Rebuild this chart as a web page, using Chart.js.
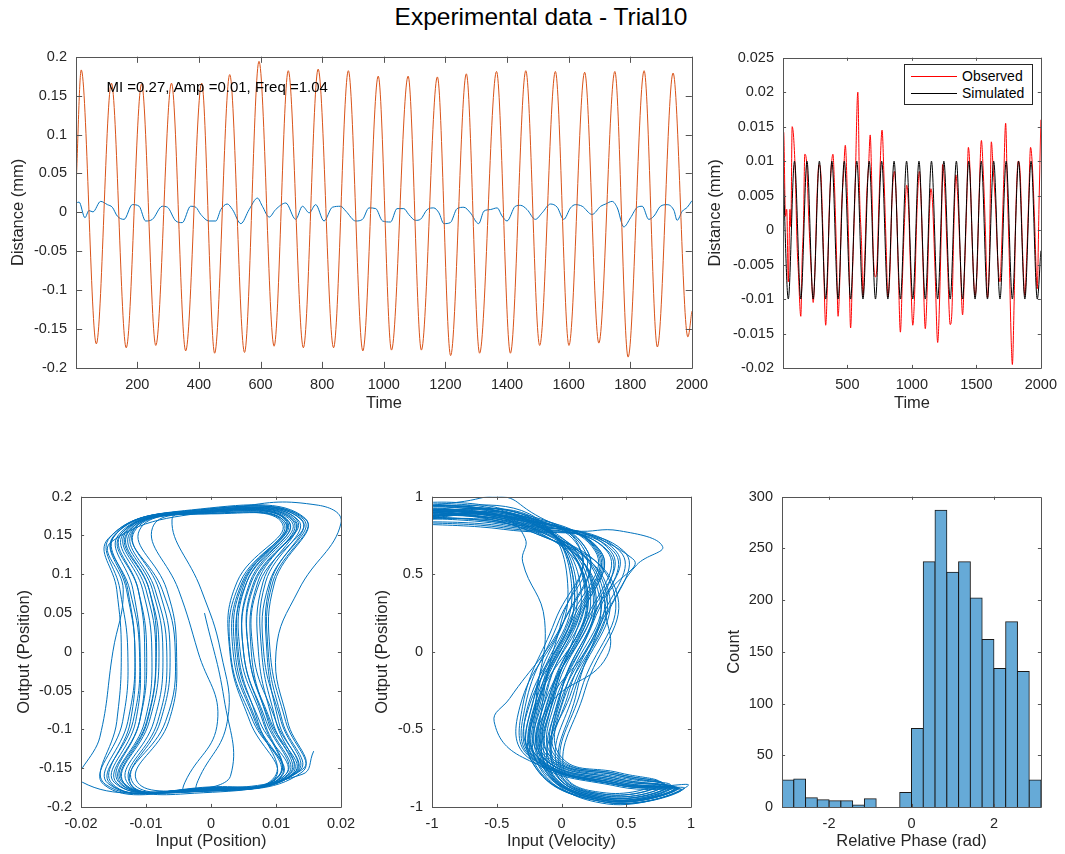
<!DOCTYPE html>
<html>
<head>
<meta charset="utf-8">
<script src="https://cdn.jsdelivr.net/npm/chart.js@4.4.1/dist/chart.umd.min.js"></script>
<style>
  body { margin: 0; background: #fff; }
  #fig { position: relative; width: 1065px; height: 854px; overflow: hidden;
         font-family: "Liberation Sans", Arial, Helvetica, sans-serif; color: #262626; }
  #fig canvas { position: absolute; }
  #title { position: absolute; left: 0; top: 2px; width: 1082px; text-align: center;
           font-size: 24.5px; line-height: 30px; color: #000; }
  #legend { position: absolute; left: 904px; top: 64px; width: 127px; height: 39px;
            border: 1px solid #262626; background: #fff; font-size: 14px; z-index: 5; }
  #legend .item { position: absolute; left: 0; width: 100%; height: 16px; }
  #legend .swatch { position: absolute; left: 6px; top: 8px; width: 46px; border-top: 1px solid; }
  #legend .lbl { position: absolute; left: 57px; top: 0; line-height: 16px; color: #000; }
</style>
</head>
<body>
<div id="fig">
  <div id="title">Experimental data - Trial10</div>
  <canvas id="cTime" width="707" height="381" style="left:9px;top:39px"></canvas>
  <canvas id="cFit" width="359" height="380" style="left:706px;top:40px"></canvas>
  <canvas id="cPos" width="350" height="380" style="left:15px;top:479px"></canvas>
  <canvas id="cVel" width="342" height="380" style="left:373px;top:479px"></canvas>
  <canvas id="cHist" width="340" height="380" style="left:725px;top:479px"></canvas>
  <div id="legend">
    <div class="item" style="top:3px"><span class="swatch" style="border-color:#ff0000"></span><span class="lbl">Observed</span></div>
    <div class="item" style="top:20px"><span class="swatch" style="border-color:#000"></span><span class="lbl">Simulated</span></div>
  </div>
</div>
<script>
// ---------------- data ----------------

// top left: output position (orange), extrema of each half cycle
const outTimes = [1, 18, 67, 116, 164, 214, 260, 311, 357, 409, 451, 500, 548, 595, 644, 690, 739, 787, 837, 885,
  932, 982, 1025, 1079, 1122, 1174, 1217, 1268, 1311, 1366, 1411, 1461, 1506, 1557, 1601, 1652, 1698, 1750, 1793, 1845,
  1888, 1939, 1987, 2000];
const outValues = [0.03, 0.183, -0.169, 0.166, -0.174, 0.165, -0.171, 0.166, -0.178, 0.166, -0.181, 0.177, -0.180, 0.194,
  -0.172, 0.182, -0.174, 0.184, -0.174, 0.182, -0.178, 0.175, -0.177, 0.175, -0.177, 0.174, -0.184, 0.178, -0.181, 0.181,
  -0.181, 0.182, -0.171, 0.181, -0.171, 0.180, -0.168, 0.181, -0.186, 0.182, -0.173, 0.179, -0.160, -0.127];

// top left: input position (blue), [time, value]
const inputPos = [
  [1, 0.0120], [11, 0.0132], [30, -0.0069], [43, 0.0023], [56, 0.0006], [81, 0.0141], [103, 0.0099], [119, 0.0065],
  [135, -0.0048], [157, -0.0090], [184, 0.0099], [206, 0.0078], [227, -0.0111], [249, -0.0090], [281, 0.0078],
  [298, 0.0065], [325, -0.0111], [346, -0.0132], [373, 0.0078], [390, 0.0065], [406, -0.0027], [433, -0.0111],
  [455, -0.0111], [471, 0.0036], [492, 0.0107], [509, 0.0036], [536, -0.0145], [563, 0.0036], [590, 0.0183],
  [606, 0.0078], [628, -0.0061], [649, 0.0036], [682, 0.0120], [714, -0.0090], [736, 0.0078], [758, -0.0006],
  [779, 0.0099], [806, -0.0111], [833, 0.0065], [860, 0.0078], [877, 0.0015], [909, -0.0111], [931, -0.0090],
  [952, 0.0057], [974, 0.0048], [996, -0.0111], [1022, -0.0124], [1043, 0.0048], [1065, 0.0048], [1081, -0.0027],
  [1103, -0.0103], [1119, -0.0090], [1141, 0.0036], [1162, 0.0057], [1179, -0.0006], [1195, -0.0145], [1216, -0.0132],
  [1238, 0.0048], [1260, 0.0065], [1281, -0.0006], [1308, -0.0145], [1325, 0.0015], [1346, 0.0036], [1368, 0.0057],
  [1384, -0.0048], [1400, -0.0111], [1427, 0.0078], [1444, 0.0090], [1465, 0.0036], [1492, -0.0090], [1514, -0.0006],
  [1541, 0.0107], [1563, 0.0065], [1584, -0.0090], [1606, 0.0057], [1622, 0.0099], [1644, 0.0078], [1676, -0.0027],
  [1704, 0.0078], [1720, 0.0107], [1741, 0.0141], [1758, 0.0057], [1779, -0.0187], [1801, -0.0069], [1823, 0.0065],
  [1839, 0.0078], [1860, -0.0090], [1877, -0.0048], [1898, 0.0078], [1920, 0.0099], [1942, 0.0023], [1952, -0.0103],
  [1969, 0.0015], [1985, 0.0065], [2000, 0.0149]
];

// top right: simulated (black) extrema
const simTimes = [1, 42, 90, 139, 187, 235, 283, 332, 380, 428, 476, 525, 573, 621, 669, 718, 766, 814, 862, 911, 959,
  1007, 1055, 1104, 1152, 1200, 1248, 1297, 1345, 1393, 1441, 1490, 1538, 1586, 1634, 1683, 1731, 1779, 1827, 1876,
  1924, 1972, 2000];
const simValues = [0.0095, -0.01, 0.01, -0.01, 0.01, -0.01, 0.01, -0.01, 0.01, -0.01, 0.01, -0.01, 0.01, -0.01, 0.01,
  -0.01, 0.01, -0.01, 0.01, -0.01, 0.01, -0.01, 0.01, -0.01, 0.01, -0.01, 0.01, -0.01, 0.01, -0.01, 0.01, -0.01, 0.01,
  -0.01, 0.01, -0.01, 0.01, -0.01, 0.01, -0.01, 0.01, -0.01, -0.003];

// top right: observed (red), [time, value]
const observed = [
  [1, 0.010], [6, 0.0142], [20, 0.002], [30, 0.003], [42, -0.0075], [55, 0.003], [62, 0.0005], [72, 0.015], [95, 0.009],
  [110, -0.002], [120, -0.006], [139, -0.0125], [150, -0.004], [160, 0.001], [170, 0.011], [185, 0.0095], [200, 0.002],
  [220, -0.006], [235, -0.0105], [250, -0.005], [265, 0.005], [280, 0.0095], [295, 0.008], [310, 0.0], [332, -0.0138],
  [345, -0.008], [360, 0.003], [388, 0.011], [400, 0.0065], [415, -0.003], [428, -0.0125], [440, -0.008], [455, 0.003],
  [470, 0.008], [484, 0.0123], [500, 0.005], [510, -0.002], [525, -0.0142], [540, -0.006], [560, 0.006], [581, 0.020],
  [595, 0.005], [610, -0.002], [621, -0.0095], [635, -0.004], [650, 0.005], [665, 0.0095], [677, 0.0138], [690, 0.006],
  [700, -0.003], [718, -0.0068], [730, -0.005], [745, 0.004], [769, 0.0145], [785, 0.007], [800, -0.002], [814, -0.0097],
  [830, -0.006], [845, 0.004], [865, 0.0085], [880, 0.004], [895, -0.006], [911, -0.0148], [925, -0.008], [940, 0.0],
  [960, 0.0065], [975, 0.003], [990, -0.006], [1007, -0.0138], [1020, -0.010], [1040, 0.003], [1058, 0.0085],
  [1070, 0.005], [1085, -0.004], [1104, -0.0143], [1118, -0.009], [1135, 0.002], [1148, 0.006], [1160, 0.004],
  [1180, -0.006], [1200, -0.0163], [1215, -0.010], [1230, 0.002], [1238, 0.0095], [1255, 0.006], [1275, -0.004],
  [1297, -0.0137], [1310, -0.012], [1325, 0.0], [1341, 0.008], [1355, 0.005], [1375, -0.004], [1393, -0.0123],
  [1408, -0.006], [1425, 0.004], [1438, 0.012], [1450, 0.009], [1470, -0.003], [1490, -0.0095], [1505, -0.006],
  [1520, 0.004], [1539, 0.013], [1552, 0.009], [1570, 0.0], [1586, -0.0098], [1600, -0.005], [1616, 0.0128],
  [1630, 0.009], [1650, 0.003], [1665, -0.004], [1683, -0.0075], [1695, -0.003], [1710, 0.006], [1727, 0.0155],
  [1740, 0.006], [1755, -0.004], [1770, -0.016], [1779, -0.0195], [1792, -0.011], [1805, 0.002], [1825, 0.010],
  [1840, 0.008], [1858, -0.003], [1876, -0.0095], [1890, -0.004], [1905, 0.004], [1920, 0.012], [1935, 0.009],
  [1950, 0.002], [1972, -0.0085], [1985, 0.003], [2000, 0.016]
];

// bottom left: input position vs output position, one row per cycle
const posLoops = [
  [[-0.001, 0.05], [0.002, -0.06], [0.003, -0.16]],
  [[-0.002,-0.177],[0.0115,-0.158],[0.0075,-0.09],[0.0040,0],[0.0055,0.09],[0.0120,0.167],[-0.002,0.180],[-0.0130,0.152],[-0.0095,0.08],[-0.0080,0],[-0.0095,-0.09],[-0.0135,-0.168]],
  [[-0.003,-0.179],[0.0130,-0.156],[0.0100,-0.09],[0.0065,0],[0.0075,0.09],[0.0140,0.170],[-0.003,0.181],[-0.0150,0.148],[-0.0125,0.08],[-0.0110,0],[-0.0120,-0.09],[-0.0155,-0.170]],
  [[-0.001,-0.176],[0.0110,-0.159],[0.0065,-0.09],[0.0030,0],[0.0045,0.09],[0.0115,0.166],[-0.002,0.179],[-0.0120,0.155],[-0.0075,0.08],[-0.0055,0],[-0.0070,-0.09],[-0.0125,-0.167]],
  [[-0.004,-0.181],[0.0135,-0.154],[0.0110,-0.09],[0.0088,0],[0.0095,0.09],[0.0145,0.172],[-0.003,0.183],[-0.0158,0.146],[-0.0145,0.08],[-0.0138,0],[-0.0145,-0.09],[-0.0162,-0.171]],
  [[0.000,-0.174],[0.0105,-0.160],[0.0080,-0.09],[0.0045,0],[0.0055,0.09],[0.0115,0.166],[-0.001,0.178],[-0.0060,0.170],[-0.0015,0.08],[0.0015,0],[0.0025,-0.09],[-0.0020,-0.166]],
  [[-0.002,-0.178],[0.0125,-0.157],[0.0090,-0.09],[0.0058,0],[0.0066,0.09],[0.0130,0.169],[-0.002,0.181],[-0.0140,0.150],[-0.0112,0.08],[-0.0099,0],[-0.0110,-0.09],[-0.0145,-0.169]],
  [[-0.001,-0.177],[0.0105,-0.159],[0.0082,-0.09],[0.0050,0],[0.0060,0.09],[0.0120,0.168],[-0.002,0.180],[-0.0125,0.153],[-0.0090,0.08],[-0.0074,0],[-0.0088,-0.09],[-0.0130,-0.167]],
  [[-0.003,-0.180],[0.0140,-0.155],[0.0115,-0.09],[0.0091,0],[0.0098,0.09],[0.0145,0.171],[-0.003,0.182],[-0.0150,0.149],[-0.0130,0.08],[-0.0117,0],[-0.0128,-0.09],[-0.0158,-0.170]],
  [[0.000,-0.175],[0.0100,-0.161],[0.0060,-0.09],[0.0029,0],[0.0040,0.09],[0.0110,0.165],[-0.001,0.178],[-0.0110,0.157],[-0.0068,0.08],[-0.0053,0],[-0.0065,-0.09],[-0.0115,-0.165]],
  [[-0.002,-0.178],[0.0120,-0.158],[0.0095,-0.09],[0.0073,0],[0.0080,0.09],[0.0128,0.169],[-0.002,0.180],[-0.0135,0.152],[-0.0105,0.08],[-0.0091,0],[-0.0102,-0.09],[-0.0140,-0.168]],
  [[-0.002,-0.177],[0.0128,-0.156],[0.0092,-0.09],[0.0058,0],[0.0068,0.09],[0.0132,0.170],[-0.002,0.181],[-0.0128,0.153],[-0.0095,0.08],[-0.0084,0],[-0.0098,-0.09],[-0.0135,-0.168]],
  [[-0.001,-0.176],[0.0108,-0.160],[0.0070,-0.09],[0.0037,0],[0.0050,0.09],[0.0118,0.167],[-0.001,0.179],[-0.0118,0.155],[-0.0080,0.08],[-0.0063,0],[-0.0078,-0.09],[-0.0122,-0.166]],
  [[-0.003,-0.180],[0.0132,-0.155],[0.0108,-0.09],[0.0081,0],[0.0090,0.09],[0.0142,0.171],[-0.003,0.182],[-0.0148,0.150],[-0.0128,0.08],[-0.0117,0],[-0.0124,-0.09],[-0.0152,-0.170]],
  [[-0.002,-0.177],[0.0115,-0.158],[0.0085,-0.09],[0.0050,0],[0.0062,0.09],[0.0124,0.168],[-0.002,0.180],[-0.0132,0.153],[-0.0100,0.08],[-0.0085,0],[-0.0099,-0.09],[-0.0138,-0.167]],
  [[-0.002,-0.178],[0.0122,-0.157],[0.0100,-0.09],[0.0078,0],[0.0084,0.09],[0.0134,0.170],[-0.002,0.181],[-0.0142,0.151],[-0.0120,0.08],[-0.0109,0],[-0.0116,-0.09],[-0.0148,-0.169]],
  [[0.000,-0.175],[0.0098,-0.161],[0.0072,-0.09],[0.0042,0],[0.0052,0.09],[0.0112,0.166],[-0.001,0.178],[-0.0090,0.160],[-0.0050,0.08],[-0.0020,0],[0.0010,-0.09],[-0.0040,-0.168]],
  [[-0.004,-0.181],[0.0128,-0.156],[0.0104,-0.09],[0.0086,0],[0.0092,0.09],[0.0138,0.171],[-0.003,0.182],[-0.0155,0.148],[-0.0140,0.08],[-0.0128,0],[-0.0136,-0.09],[-0.0165,-0.171]],
  [[-0.001,-0.177],[0.0105,-0.159],[0.0068,-0.09],[0.0034,0],[0.0048,0.09],[0.0116,0.168],[-0.002,0.179],[-0.0122,0.154],[-0.0086,0.08],[-0.0068,0],[-0.0082,-0.09],[-0.0126,-0.167]],
  [[-0.004,-0.183],[0.0140,-0.152],[0.0118,-0.09],[0.0100,0.0],[0.0135,0.08],[0.0200,0.166],[0.0165,0.189],[0.004,0.186],[-0.0153,0.142],[-0.0135,0.08],[-0.0151,0.0],[-0.0171,-0.11],[-0.0198,-0.168]],
  [[-0.002,-0.178],[0.0118,-0.158],[0.0088,-0.09],[0.0062,0],[0.0072,0.09],[0.0126,0.169],[-0.002,0.180],[-0.0138,0.152],[-0.0112,0.08],[-0.0102,0],[-0.0110,-0.09],[-0.0142,-0.168]],
  [[-0.002,-0.177],[0.0140,-0.158],[0.0158,-0.128]]
];

// bottom middle: input velocity vs output position (normalised), one row per cycle
const velLoops = [
  [[-1.1,0.90],[-0.45,0.88],[0.28,0.65],[0.10,0.20],[-0.18,-0.35],[-0.15,-0.68],[0.45,-0.83],[0.85,-0.87],[0.35,-0.95],[-0.10,-0.74],[-0.05,-0.25],[0.20,0.40],[-0.25,0.84]],
  [[-1.1,0.94],[-0.45,0.91],[0.15,0.65],[-0.05,0.20],[-0.30,-0.35],[-0.24,-0.68],[0.45,-0.85],[0.90,-0.88],[0.35,-0.96],[-0.18,-0.72],[-0.18,-0.25],[0.08,0.40],[-0.25,0.88]],
  [[-1.1,0.84],[-0.45,0.80],[0.40,0.65],[0.25,0.20],[-0.06,-0.35],[-0.06,-0.68],[0.45,-0.80],[0.80,-0.86],[0.35,-0.93],[-0.03,-0.75],[0.10,-0.25],[0.36,0.40],[-0.25,0.78]],
  [[-1.1,0.91],[-0.45,0.87],[0.30,0.65],[0.12,0.20],[-0.25,-0.35],[-0.22,-0.68],[0.45,-0.86],[0.95,-0.88],[0.35,-0.97],[-0.18,-0.73],[-0.12,-0.25],[0.18,0.40],[-0.25,0.85]],
  [[-1.1,0.92],[-0.75,0.97],[-0.45,1.0],[-0.27,0.92],[0.15,0.65],[0.0,0.20],[-0.15,-0.35],[-0.12,-0.68],[0.45,-0.82],[0.82,-0.87],[0.35,-0.94],[-0.08,-0.74],[0.0,-0.25],[0.25,0.40],[-0.25,0.83]],
  [[-1.1,0.87],[-0.45,0.83],[0.45,0.65],[0.30,0.20],[-0.02,-0.35],[-0.02,-0.68],[0.45,-0.79],[0.78,-0.85],[0.35,-0.92],[0.0,-0.76],[0.15,-0.25],[0.40,0.40],[-0.25,0.80]],
  [[-1.1,0.90],[-0.45,0.86],[-0.28,0.73],[-0.30,0.58],[-0.13,0.20],[-0.20,-0.35],[-0.18,-0.68],[0.45,-0.84],[0.88,-0.88],[0.35,-0.95],[-0.12,-0.73],[-0.06,-0.25],[0.22,0.40],[-0.25,0.84]],
  [[-1.1,0.95],[-0.45,0.92],[0.20,0.65],[0.02,0.20],[-0.32,-0.35],[-0.26,-0.68],[0.45,-0.87],[0.92,-0.89],[0.35,-0.97],[-0.22,-0.72],[-0.20,-0.25],[0.05,0.40],[-0.25,0.89]],
  [[-1.1,0.89],[-0.45,0.86],[0.10,0.78],[0.45,0.78],[0.78,0.68],[0.58,0.56],[0.40,0.33],[0.18,0.0],[-0.10,-0.35],[-0.08,-0.68],[0.45,-0.81],[0.84,-0.86],[0.35,-0.94],[-0.06,-0.75],[0.03,-0.25],[0.30,0.40],[-0.25,0.83]],
  [[-1.1,0.86],[-0.45,0.82],[0.35,0.65],[0.18,0.20],[-0.20,-0.35],[-0.18,-0.68],[0.45,-0.85],[0.87,-0.87],[0.35,-0.96],[-0.14,-0.73],[-0.08,-0.25],[0.20,0.40],[-0.25,0.80]],
  [[-1.1,0.92],[-0.45,0.89],[0.20,0.65],[0.02,0.20],[-0.40,-0.30],[-0.52,-0.45],[-0.30,-0.68],[0.45,-0.86],[0.93,-0.89],[0.35,-0.97],[-0.22,-0.72],[-0.15,-0.25],[0.10,0.40],[-0.25,0.86]],
  [[-1.1,0.83],[-0.45,0.79],[0.48,0.65],[0.33,0.20],[0.0,-0.35],[0.0,-0.68],[0.45,-0.78],[0.75,-0.84],[0.35,-0.91],[0.02,-0.77],[0.18,-0.25],[0.42,0.40],[-0.25,0.78]],
  [[-1.1,0.93],[-0.45,0.90],[0.27,0.65],[0.08,0.20],[-0.26,-0.35],[-0.20,-0.68],[0.45,-0.86],[0.98,-0.86],[0.35,-0.98],[-0.16,-0.72],[-0.14,-0.25],[0.12,0.40],[-0.25,0.87]],
  [[-1.1,0.88],[-0.45,0.85],[0.38,0.65],[0.20,0.20],[-0.12,-0.35],[-0.10,-0.68],[0.45,-0.82],[0.83,-0.87],[0.35,-0.94],[-0.06,-0.75],[0.06,-0.25],[0.32,0.40],[-0.25,0.82]],
  [[-1.1,0.91],[-0.45,0.88],[0.55,0.60],[0.35,0.35],[0.35,-0.03],[-0.10,-0.35],[-0.14,-0.68],[0.45,-0.84],[0.89,-0.88],[0.35,-0.95],[-0.12,-0.74],[-0.04,-0.25],[0.24,0.40],[-0.25,0.85]],
  [[-1.1,0.85],[-0.45,0.84],[0.30,0.65],[0.14,0.20],[-0.08,-0.35],[-0.08,-0.68],[0.45,-0.80],[0.80,-0.86],[0.35,-0.93],[-0.04,-0.76],[0.00,-0.25],[0.26,0.40],[-0.25,0.81]],
  [[-1.1,0.93],[-0.45,0.90],[0.18,0.65],[-0.02,0.20],[-0.28,-0.35],[-0.23,-0.68],[0.45,-0.86],[0.91,-0.88],[0.35,-0.96],[-0.20,-0.73],[-0.16,-0.25],[0.10,0.40],[-0.25,0.87]],
  [[-1.1,0.87],[-0.45,0.83],[0.42,0.65],[0.22,0.20],[-0.14,-0.35],[-0.14,-0.68],[0.45,-0.83],[0.86,-0.87],[0.35,-0.95],[-0.10,-0.74],[0.08,-0.25],[0.34,0.40],[-0.25,0.81]],
  [[-1.1,0.90],[-0.45,0.87],[0.29,0.65],[0.11,0.20],[-0.21,-0.35],[-0.19,-0.68],[0.45,-0.85],[0.88,-0.88],[0.35,-0.96],[-0.13,-0.73],[-0.07,-0.25],[0.19,0.40],[-0.25,0.84]],
  [[-1.1,0.84],[-0.45,0.81],[0.36,0.65],[0.24,0.20],[-0.04,-0.35],[-0.04,-0.68],[0.45,-0.79],[0.77,-0.85],[0.35,-0.92],[-0.01,-0.77],[0.12,-0.25],[0.28,0.40],[-0.25,0.79]],
  [[-1.1,0.91],[-0.45,0.88],[0.26,0.65],[0.06,0.20],[-0.23,-0.35],[-0.21,-0.68],[0.45,-0.85],[0.90,-0.88],[0.35,-0.96],[-0.15,-0.73],[-0.11,-0.25],[0.15,0.40],[-0.25,0.85],[-1.1,0.88]]
];

// bottom right: relative phase histogram, 22 bins over [-pi, pi]
const phaseCounts = [26, 27, 9, 7, 6, 6, 2, 8, 0, 0, 14, 76, 237, 287, 227, 237, 202, 162, 134, 179, 131, 26];

// tick values
const timeTicks = [200, 400, 600, 800, 1000, 1200, 1400, 1600, 1800, 2000];
const timeTicksSmall = [500, 1000, 1500, 2000];
const outTicks = [-0.2, -0.15, -0.1, -0.05, 0, 0.05, 0.1, 0.15, 0.2];
const fitTicks = [-0.02, -0.015, -0.01, -0.005, 0, 0.005, 0.01, 0.015, 0.02, 0.025];
const inPosTicks = [-0.02, -0.01, 0, 0.01, 0.02];
const unitTicks = [-1, -0.5, 0, 0.5, 1];
const phaseTicks = [-2, 0, 2];
const countTicks = [0, 50, 100, 150, 200, 250, 300];

const noteText = 'MI =0.27, Amp =0.01, Freq =1.04';

// ---------------- helpers ----------------
const FONT = '"Liberation Sans", Arial, Helvetica, sans-serif';
const INK = '#262626';
const BLUE = '#0072BD';
const ORANGE = '#D95319';

Chart.defaults.animation = false;
Chart.defaults.font.family = FONT;
Chart.defaults.color = INK;

const fmt = v => String(parseFloat(Number(v).toFixed(4)));

function axis(dir, min, max, ticks, size, title, titlePad) {
  return {
    type: 'linear', min: min, max: max, offset: false,
    grid: { display: false, drawTicks: false },
    border: { display: false },
    afterBuildTicks: s => { s.ticks = ticks.map(v => ({ value: v })); },
    afterFit: s => { if (dir === 'x') s.height = size; else s.width = size; },
    ticks: {
      autoSkip: false, maxRotation: 0, color: INK,
      padding: dir === 'x' ? 8 : 9,
      font: { family: FONT, size: 14.5 },
      callback: v => fmt(v)
    },
    title: {
      display: true, text: title, color: INK,
      font: { family: FONT, size: 16.5 },
      padding: { top: 0, bottom: titlePad || 0 }
    }
  };
}

// MATLAB style box with inward ticks on all four sides
const boxPlugin = {
  id: 'box',
  afterDraw(chart) {
    const { ctx, chartArea: a, scales } = chart;
    const len = Math.max(a.right - a.left, a.bottom - a.top) * 0.01;
    ctx.save();
    ctx.strokeStyle = '#555';
    ctx.lineWidth = 1;
    ctx.beginPath();
    scales.x.ticks.forEach(t => {
      const px = Math.round(scales.x.getPixelForValue(t.value)) + 0.5;
      ctx.moveTo(px, a.bottom); ctx.lineTo(px, a.bottom - len);
      ctx.moveTo(px, a.top); ctx.lineTo(px, a.top + len);
    });
    scales.y.ticks.forEach(t => {
      const py = Math.round(scales.y.getPixelForValue(t.value)) + 0.5;
      ctx.moveTo(a.left, py); ctx.lineTo(a.left + len, py);
      ctx.moveTo(a.right, py); ctx.lineTo(a.right - len, py);
    });
    ctx.rect(Math.round(a.left) + 0.5, Math.round(a.top) + 0.5,
             Math.round(a.right - a.left), Math.round(a.bottom - a.top));
    ctx.stroke();
    ctx.restore();
  }
};

const notePlugin = {
  id: 'note',
  afterDatasetsDraw(chart) {
    const { ctx, scales } = chart;
    ctx.save();
    ctx.font = '15px ' + FONT;
    ctx.fillStyle = '#000';
    ctx.textBaseline = 'middle';
    ctx.fillText(noteText, scales.x.getPixelForValue(100), scales.y.getPixelForValue(0.16));
    ctx.restore();
  }
};

const baseOptions = (x, y) => ({
  responsive: false,
  maintainAspectRatio: false,
  layout: { padding: { top: 12, right: 24, left: 0, bottom: 0 } },
  plugins: { legend: { display: false }, tooltip: { enabled: false } },
  elements: { point: { radius: 0 }, line: { capBezierPoints: false } },
  scales: { x: x, y: y }
});

const series = (color, data, extra) => Object.assign({
  data: data, borderColor: color, borderWidth: 1, pointRadius: 0, fill: false
}, extra || {});

// ---------------- charts ----------------
new Chart(document.getElementById('cTime'), {
  type: 'line',
  data: {
    datasets: [
      series(ORANGE, outTimes.map((t, i) => ({ x: t, y: outValues[i] })), { cubicInterpolationMode: 'monotone' }),
      series(BLUE, inputPos.map(p => ({ x: p[0], y: p[1] })), { cubicInterpolationMode: 'monotone' })
    ]
  },
  options: baseOptions(
    axis('x', 1, 2000, timeTicks, 52, 'Time', 6.5),
    axis('y', -0.2, 0.2, outTicks, 67, 'Distance (mm)')
  ),
  plugins: [boxPlugin, notePlugin]
});

new Chart(document.getElementById('cFit'), {
  type: 'line',
  data: {
    datasets: [
      series('#000000', simTimes.map((t, i) => ({ x: t, y: simValues[i] })), { cubicInterpolationMode: 'monotone' }),
      series('#ff0000', observed.map(p => ({ x: p[0], y: p[1] })), { cubicInterpolationMode: 'monotone' })
    ]
  },
  options: baseOptions(
    axis('x', 1, 2000, timeTicksSmall, 52, 'Time', 6.5),
    axis('y', -0.02, 0.025, fitTicks, 77, 'Distance (mm)')
  ),
  plugins: [boxPlugin]
});

new Chart(document.getElementById('cPos'), {
  type: 'scatter',
  data: {
    datasets: [series(BLUE, posLoops.flat().map(p => ({ x: p[0], y: p[1] })), { showLine: true, tension: 0.45 })]
  },
  options: baseOptions(
    axis('x', -0.02, 0.02, inPosTicks, 52, 'Input (Position)', 7.5),
    axis('y', -0.2, 0.2, outTicks, 66, 'Output (Position)')
  ),
  plugins: [boxPlugin]
});

new Chart(document.getElementById('cVel'), {
  type: 'scatter',
  data: {
    datasets: [series(BLUE, velLoops.flat().map(p => ({ x: p[0], y: p[1] })), { showLine: true, tension: 0.45 })]
  },
  options: baseOptions(
    axis('x', -1, 1, unitTicks, 52, 'Input (Velocity)', 7.5),
    axis('y', -1, 1, unitTicks, 59, 'Output (Position)')
  ),
  plugins: [boxPlugin]
});

const binWidth = 2 * Math.PI / phaseCounts.length;
const binCenters = phaseCounts.map((c, i) => -Math.PI + (i + 0.5) * binWidth);

new Chart(document.getElementById('cHist'), {
  type: 'bar',
  data: {
    datasets: [{
      data: phaseCounts.map((c, i) => ({ x: binCenters[i], y: c })),
      backgroundColor: '#66AAD7',
      borderColor: '#1a1a1a',
      borderWidth: 1,
      inflateAmount: 0.5,
      barPercentage: 1,
      categoryPercentage: 1
    }]
  },
  options: baseOptions(
    axis('x', -Math.PI, Math.PI, phaseTicks, 52, 'Relative Phase (rad)', 7.5),
    axis('y', 0, 300, countTicks, 57, 'Count')
  ),
  plugins: [boxPlugin]
});
</script>
</body>
</html>
